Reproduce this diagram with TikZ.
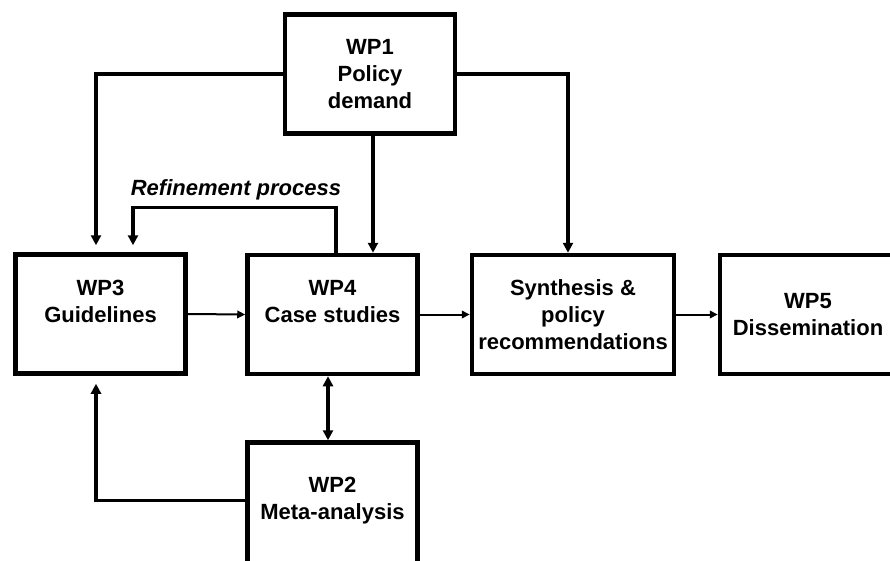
\documentclass[tikz,border=0pt]{standalone}
\usepackage{fontspec}
\setmainfont{Liberation Sans}
\usetikzlibrary{arrows.meta}
\tikzset{
    wp/.style={
        draw,
        line width=4.5pt,
        minimum width=170pt,
        minimum height=119pt,
        inner sep=0pt,
        align=center,
        font=\bfseries\fontsize{22}{27}\selectfont
    },
    wptext/.style={
        align=center,
        inner sep=0pt,
        font=\bfseries\fontsize{22}{27}\selectfont
    },
    link/.style={line width=3.3pt,-{Triangle[length=10pt,width=10pt]}},
    flow/.style={line width=2pt,-{Triangle[length=8pt,width=7.5pt]}}
}

\begin{document}
\begin{tikzpicture}[x=1pt,y=-1pt]
    \useasboundingbox (0,0) rectangle (890,561);
    \clip (0,0) rectangle (890,561);
    % work packages
    \node[wp] (wp1) at (370,74) {WP1\\Policy\\demand};
    \node[wp] (wp3) at (100.5,314) {};
    \node[wptext] (wp3txt) at (100.5,301.5) {WP3\\Guidelines};
    \node[wp] (wp4) at (332.5,314.5) {};
    \node[wptext] (wp4txt) at (332.5,302) {WP4\\Case studies};
    \node[wp,minimum width=202pt] (synth) at (573,314.5) {Synthesis \&\\policy\\recommendations};
    \node[wp,minimum width=176pt] (wp5) at (808,314.5) {WP5\\Dissemination};
    \node[wp,minimum height=131pt] (wp2) at (332.5,508) {};
    \node[wptext] (wp2txt) at (332.5,500.5) {WP2\\Meta-analysis};
    % connectors
    \draw[link,shorten >=7pt] (wp1.west) -| ([xshift=-4.5pt]wp3.north);
    \draw[link] (wp1.east) -| ([xshift=-5pt]synth.north);
    \draw[link] ([xshift=3pt]wp1.south) -- ([xshift=3pt]wp1.south |- wp4.north);
    \draw[link,shorten >=7pt] ([xshift=3.5pt]wp4.north) -- ++(0,-45) -| ([xshift=32.5pt]wp3.north);
    \node[wptext,font=\bfseries\itshape\fontsize{22}{27}\selectfont] (refine) at (236,190) {Refinement process};
    \draw[flow] (wp3.east) -- (wp4.west);
    \draw[flow] (wp4.east) -- (synth.west);
    \draw[flow] (synth.east) -- (wp5.west);
    \draw[link,{Triangle[length=10pt,width=10pt]}-{Triangle[length=10pt,width=10pt]}] ([xshift=-4.5pt]wp4.south) -- ([xshift=-4.5pt]wp2.north);
    \draw[link,shorten >=8pt] (wp2.west |- wp2txt) -| ([xshift=-4.5pt]wp3.south);
\end{tikzpicture}
\end{document}
